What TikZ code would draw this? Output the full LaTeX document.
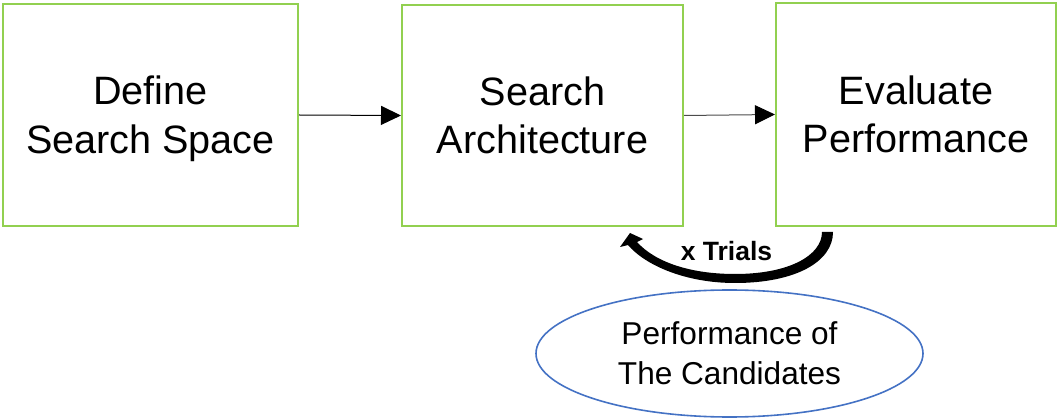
\documentclass[tikz,border=0pt]{standalone}
\usepackage{fontspec}
\setmainfont{Liberation Sans}
\usetikzlibrary{arrows.meta,shapes.geometric}
\definecolor{boxgreen}{HTML}{92D050}
\definecolor{ellblue}{HTML}{4472C4}
\tikzset{
  stepbox/.style={draw=boxgreen, line width=2pt, rectangle, inner sep=0pt, align=center,
    font=\fontsize{39.6}{48.5}\selectfont},
  flowarrow/.style={line width=1pt, -{Triangle[length=20pt,width=19pt,color=black]}},
  resultell/.style={draw=ellblue, line width=1.6pt, ellipse, inner sep=0pt, align=center,
    font=\fontsize{31.6}{40}\selectfont}
}
\begin{document}
\begin{tikzpicture}[x=1pt,y=-1pt]
\useasboundingbox (0,0) rectangle (1060,419);
\node[stepbox, minimum width=295pt, minimum height=222pt] (define) at (150.5,115) {Define\\Search S\smash{p}ace};
\node[stepbox, minimum width=281pt, minimum height=221pt] (search) at (542.5,115.5) {Search\\Architecture};
\node[stepbox, minimum width=280pt, minimum height=223pt] (eval) at (916,114.5) {Evaluate\\Performance};
\draw[flowarrow] (define.east) -- (search.west);
\draw[flowarrow, draw=black!70] (search.east) -- (eval.west);
% curved tapered loop arrow
\fill[black] (833,232) .. controls (833,262) and (795,283) .. (735,283)
  .. controls (685,283) and (645,265) .. (628,245)
  -- (620,247) -- (630,233) -- (643,239) -- (637,242)
  .. controls (655,262) and (690,274) .. (735,274)
  .. controls (790,274) and (822,255) .. (822,232) -- cycle;
\node[font=\fontsize{26.5}{30}\selectfont\bfseries] (trials) at (726.5,251) {x Trials};
\node[resultell, minimum width=387pt, minimum height=127pt] (perf) at (729.5,353.5) {Performance of\\The Candidates};
\end{tikzpicture}
\end{document}
